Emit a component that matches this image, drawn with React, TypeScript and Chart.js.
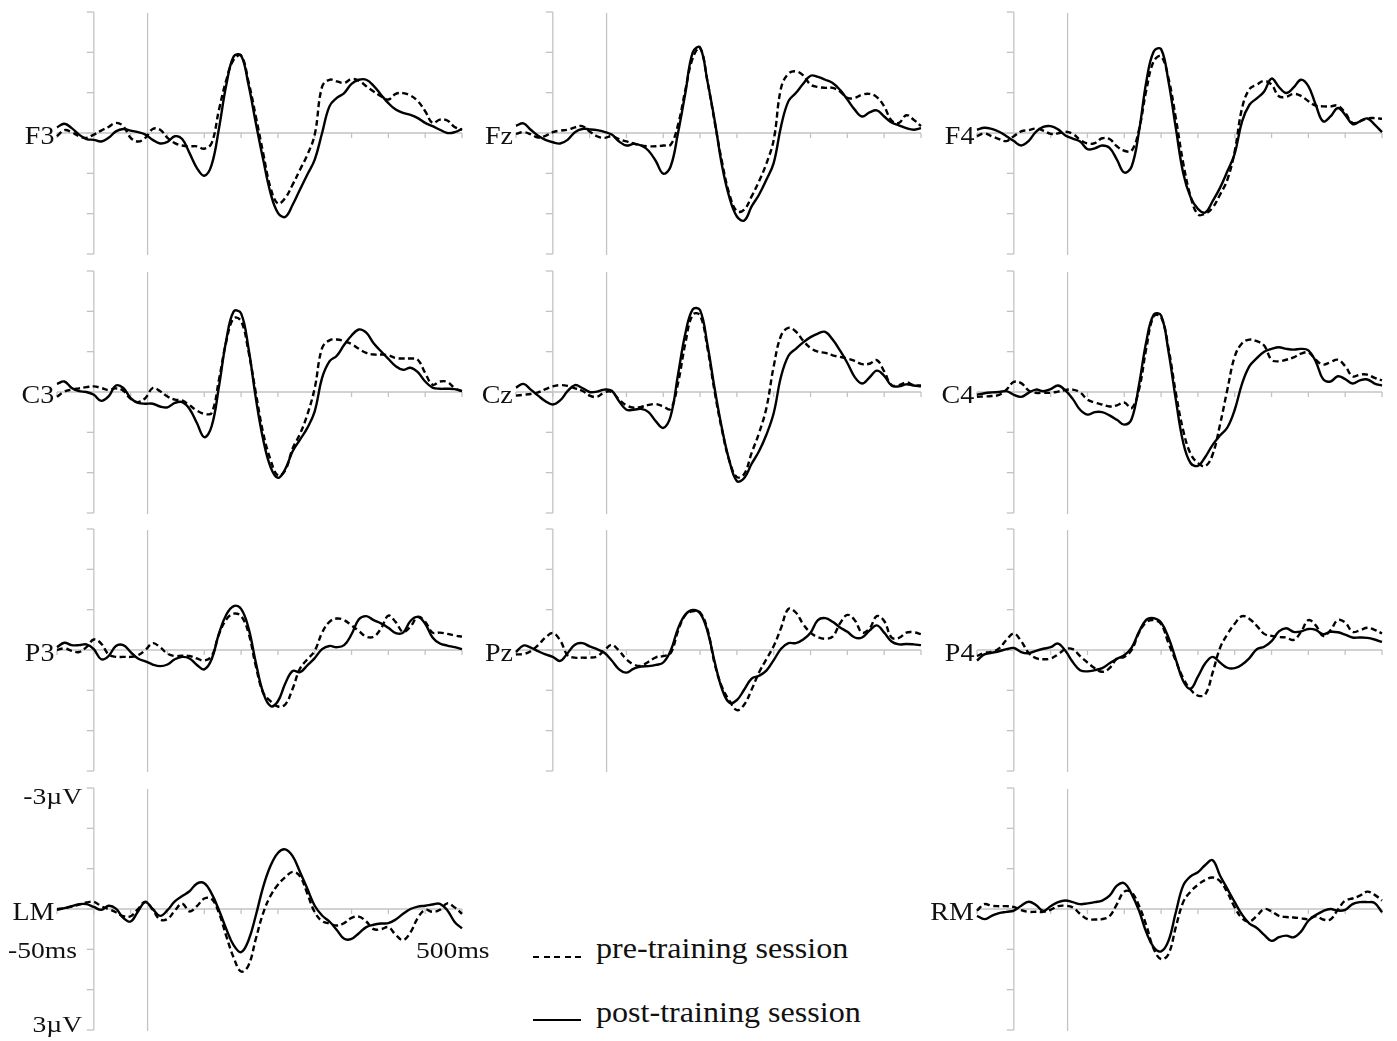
import React, { useEffect, useRef } from "react";
import { Chart, registerables } from "chart.js";

Chart.register(...registerables);

// ---------------- DATA ----------------
const times = [-50, -40, -30, -20, -10, 0, 10, 20, 30, 40, 50, 60, 70, 80, 90, 100, 110, 120, 130, 140, 150, 160, 170, 180, 190, 200, 210, 220, 230, 240, 250, 260, 270, 280, 290, 300, 310, 320, 330, 340, 350, 360, 370, 380, 390, 400, 410, 420, 430, 440, 450, 460, 470, 480, 490, 500];

const xTickValues = [-50, 0, 50, 100, 150, 200, 250, 300, 350, 400, 450, 500];
const yTickValues = [-3, -2, -1, 0, 1, 2, 3];
const markerTime = 73;

const F3_post = [-0.14, -0.23, -0.12, 0.04, 0.15, 0.17, 0.21, 0.12, -0.04, -0.10,
  -0.06, -0.02, 0.04, 0.17, 0.26, 0.22, 0.08, 0.15, 0.50, 0.87,
  1.06, 0.79, -0.12, -1.20, -1.90, -1.92, -1.20, -0.25, 0.66, 1.49,
  1.98, 2.08, 1.78, 1.40, 1.03, 0.66, 0, -0.66, -0.87, -0.99,
  -1.22, -1.32, -1.32, -1.17, -0.95, -0.74, -0.58, -0.50, -0.45, -0.37,
  -0.25, -0.17, -0.08, 0, -0.02, -0.10];
const F3_pre = [0.08, -0.07, -0.02, 0.08, 0.12, 0.04, -0.06, -0.15, -0.25, -0.17,
  0.12, 0.21, 0.12, -0.10, -0.08, 0.12, 0.25, 0.31, 0.33, 0.33,
  0.39, 0.25, -0.58, -1.32, -1.82, -1.92, -1.28, -0.41, 0.50, 1.36,
  1.75, 1.61, 1.28, 0.91, 0.54, 0.04, -1.15, -1.32, -1.28, -1.24,
  -1.34, -1.30, -1.16, -1.03, -0.91, -0.83, -0.97, -0.99, -0.93, -0.79,
  -0.54, -0.25, -0.33, -0.31, -0.15, -0.08];

const Fz_post = [-0.18, -0.24, -0.08, 0.07, 0.17, 0.23, 0.26, 0.17, -0.02, -0.10,
  -0.09, -0.07, -0.03, 0.04, 0.21, 0.31, 0.27, 0.31, 0.44, 0.70,
  1.01, 0.83, 0, -0.99, -2.00, -2.12, -1.28, -0.29, 0.83, 1.61,
  2.07, 2.17, 1.82, 1.53, 1.16, 0.74, -0.17, -0.79, -0.99, -1.22,
  -1.42, -1.39, -1.32, -1.24, -1.07, -0.83, -0.58, -0.41, -0.51, -0.56,
  -0.41, -0.26, -0.19, -0.12, -0.08, -0.12];
const Fz_pre = [0.02, -0.02, 0.03, 0.11, 0.07, -0.02, -0.06, -0.08, -0.14, -0.17,
  -0.04, 0.08, 0.12, 0.08, 0.15, 0.21, 0.26, 0.31, 0.33, 0.33,
  0.31, 0.29, -0.20, -1.07, -1.86, -2.11, -1.28, -0.25, 0.74, 1.53,
  1.94, 1.90, 1.57, 1.20, 0.76, 0.17, -1.12, -1.47, -1.53, -1.43,
  -1.20, -1.14, -1.12, -1.12, -1.03, -0.87, -0.87, -0.95, -0.97, -0.89,
  -0.66, -0.31, -0.25, -0.44, -0.33, -0.17];

const F4_post = [-0.08, -0.13, -0.10, -0.03, 0.08, 0.20, 0.31, 0.20, -0.03, -0.15,
  -0.17, -0.09, 0.06, 0.14, 0.21, 0.40, 0.38, 0.31, 0.37, 0.66,
  0.98, 0.83, -0.04, -1.28, -2.02, -2.08, -1.28, -0.12, 0.99, 1.59,
  1.88, 1.97, 1.69, 1.36, 0.95, 0.51, -0.29, -0.70, -0.86, -1.03,
  -1.35, -1.14, -0.99, -1.13, -1.32, -1.16, -0.70, -0.29, -0.41, -0.62,
  -0.45, -0.22, -0.29, -0.36, -0.21, -0.02];
const F4_pre = [0.08, 0.01, 0.08, 0.15, 0.20, 0.08, -0.04, -0.07, -0.11, -0.06,
  0.02, 0.01, -0.03, 0.02, 0.17, 0.26, 0.25, 0.13, 0.15, 0.33,
  0.44, 0.44, -0.08, -1.07, -1.78, -1.90, -1.36, -0.37, 0.74, 1.57,
  2.02, 2.00, 1.85, 1.53, 1.16, 0.45, -0.62, -1.09, -1.20, -1.29,
  -1.20, -0.91, -0.90, -0.97, -0.92, -0.79, -0.68, -0.66, -0.66, -0.68,
  -0.50, -0.25, -0.29, -0.36, -0.37, -0.35];

const C3_post = [-0.20, -0.26, -0.10, -0.02, 0, 0.07, 0.22, 0.11, -0.16, -0.10,
  0.15, 0.27, 0.29, 0.29, 0.36, 0.38, 0.27, 0.25, 0.42, 0.77,
  1.12, 0.85, -0.14, -1.30, -2.00, -1.95, -1.09, 0.15, 1.18, 1.86,
  2.13, 1.91, 1.47, 1.18, 0.89, 0.48, -0.35, -0.76, -0.90, -1.17,
  -1.40, -1.55, -1.47, -1.21, -1.01, -0.82, -0.64, -0.55, -0.60, -0.49,
  -0.26, -0.11, -0.08, -0.08, -0.07, -0.02];
const C3_pre = [0.12, -0.01, -0.06, -0.09, -0.12, -0.14, -0.10, -0.05, -0.09, -0.03,
  0.17, 0.25, 0.15, -0.10, -0.02, 0.11, 0.19, 0.21, 0.33, 0.46,
  0.54, 0.52, -0.31, -1.26, -1.83, -1.76, -1.01, 0.02, 1.02, 1.68,
  2.07, 1.94, 1.40, 1.04, 0.56, -0.10, -1.09, -1.28, -1.30, -1.26,
  -1.19, -1.07, -0.97, -0.93, -0.93, -0.91, -0.84, -0.83, -0.83, -0.80,
  -0.47, -0.18, -0.26, -0.25, -0.10, -0.02];

const Cz_post = [-0.11, -0.20, -0.06, 0.09, 0.23, 0.31, 0.21, -0.02, -0.17, -0.10,
  0, -0.01, -0.06, -0.03, 0.23, 0.44, 0.44, 0.42, 0.50, 0.73,
  0.89, 0.60, -0.43, -1.45, -2.05, -2.03, -1.17, -0.06, 0.93, 1.72,
  2.21, 2.13, 1.78, 1.47, 1.06, 0.52, -0.39, -0.90, -1.07, -1.23,
  -1.36, -1.45, -1.49, -1.30, -1.03, -0.72, -0.37, -0.21, -0.36, -0.53,
  -0.40, -0.16, -0.14, -0.19, -0.16, -0.14];
const Cz_pre = [0.09, 0.07, 0.05, 0.01, -0.07, -0.14, -0.17, -0.15, -0.09, -0.03,
  0.09, 0.12, 0.01, 0, 0.19, 0.33, 0.39, 0.37, 0.32, 0.30,
  0.36, 0.42, -0.22, -1.21, -1.92, -1.90, -1.09, 0.02, 0.97, 1.72,
  2.11, 2.03, 1.51, 1.02, 0.40, -0.64, -1.40, -1.59, -1.50, -1.27,
  -1.09, -1.00, -0.97, -0.91, -0.87, -0.83, -0.77, -0.69, -0.70, -0.79,
  -0.51, -0.17, -0.17, -0.24, -0.17, -0.16];

const C4_post = [0.07, 0.03, 0.01, 0, -0.02, 0.07, 0.12, 0.02, -0.06, -0.02,
  -0.07, -0.16, -0.04, 0.17, 0.44, 0.56, 0.50, 0.50, 0.58, 0.69,
  0.81, 0.67, -0.18, -1.26, -1.92, -1.90, -1.01, 0.19, 1.25, 1.76,
  1.83, 1.61, 1.31, 1.08, 0.88, 0.44, -0.21, -0.64, -0.84, -1.00,
  -1.07, -1.11, -1.07, -1.05, -1.07, -1.03, -0.76, -0.32, -0.26, -0.39,
  -0.32, -0.21, -0.29, -0.31, -0.21, -0.16];
const C4_pre = [0.12, 0.11, 0.10, 0.07, -0.06, -0.25, -0.22, -0.04, 0.02, 0.02,
  0.02, -0.01, -0.05, -0.06, 0.01, 0.19, 0.26, 0.31, 0.36, 0.33,
  0.26, 0.40, -0.06, -1.09, -1.88, -1.86, -1.09, 0.02, 0.95, 1.53,
  1.76, 1.84, 1.55, 0.81, -0.06, -0.88, -1.21, -1.30, -1.26, -1.15,
  -0.80, -0.76, -0.80, -0.86, -0.95, -0.98, -0.80, -0.68, -0.74, -0.80,
  -0.64, -0.39, -0.43, -0.43, -0.35, -0.29];

const P3_post = [-0.07, -0.18, -0.12, -0.12, -0.14, -0.02, 0.23, 0.15, -0.10, -0.12,
  0.05, 0.21, 0.28, 0.36, 0.40, 0.36, 0.23, 0.17, 0.21, 0.37,
  0.48, 0.23, -0.41, -0.88, -1.09, -1.02, -0.55, 0.31, 1.06, 1.39,
  1.27, 0.83, 0.52, 0.55, 0.38, 0.20, -0.02, -0.10, -0.07, -0.12,
  -0.39, -0.76, -0.84, -0.74, -0.66, -0.55, -0.42, -0.43, -0.72, -0.82,
  -0.65, -0.31, -0.16, -0.11, -0.07, -0.02];
const P3_pre = [0, -0.04, 0.02, 0.05, -0.07, -0.26, -0.16, 0.11, 0.17, 0.17,
  0.17, 0.13, 0, -0.17, -0.07, 0.09, 0.15, 0.14, 0.15, 0.21,
  0.26, 0.15, -0.39, -0.76, -0.90, -0.84, -0.43, 0.40, 1.06, 1.27,
  1.40, 1.35, 0.96, 0.46, 0.23, 0.02, -0.43, -0.70, -0.78, -0.74,
  -0.61, -0.47, -0.33, -0.33, -0.53, -0.85, -0.69, -0.45, -0.58, -0.82,
  -0.70, -0.43, -0.43, -0.40, -0.36, -0.33];

const Pz_post = [0.05, -0.11, -0.06, 0.03, 0.11, 0.17, 0.27, 0.08, -0.13, -0.17,
  -0.09, -0.02, 0.07, 0.26, 0.48, 0.56, 0.46, 0.41, 0.40, 0.37,
  0.31, 0.02, -0.53, -0.88, -0.99, -0.91, -0.47, 0.31, 0.98, 1.31,
  1.24, 0.98, 0.71, 0.64, 0.51, 0.25, -0.03, -0.17, -0.17, -0.26,
  -0.43, -0.74, -0.79, -0.70, -0.56, -0.45, -0.31, -0.31, -0.48, -0.61,
  -0.43, -0.21, -0.14, -0.15, -0.14, -0.12];
const Pz_pre = [0.11, 0.10, 0.03, -0.12, -0.31, -0.42, -0.24, 0.13, 0.19, 0.19,
  0.19, 0.16, 0.01, -0.13, 0.02, 0.23, 0.36, 0.39, 0.29, 0.18,
  0.15, 0.08, -0.47, -0.87, -0.96, -0.93, -0.51, 0.36, 0.93, 1.26,
  1.49, 1.35, 0.98, 0.56, 0.23, -0.10, -0.55, -1.02, -0.93, -0.64,
  -0.43, -0.32, -0.28, -0.33, -0.66, -0.87, -0.74, -0.43, -0.53, -0.84,
  -0.72, -0.31, -0.30, -0.43, -0.44, -0.39];

const P4_post = [0.26, 0.11, 0.07, 0.03, -0.02, -0.05, 0.05, 0.08, 0.02, -0.03,
  -0.07, -0.16, 0.02, 0.30, 0.50, 0.53, 0.50, 0.45, 0.33, 0.22,
  0.13, -0.06, -0.45, -0.75, -0.79, -0.68, -0.31, 0.23, 0.77, 0.96,
  0.66, 0.33, 0.17, 0.31, 0.44, 0.45, 0.36, 0.20, -0.02, -0.08,
  -0.22, -0.46, -0.54, -0.45, -0.46, -0.52, -0.50, -0.39, -0.45, -0.44,
  -0.38, -0.31, -0.31, -0.30, -0.26, -0.20];
const P4_pre = [0.15, 0.07, 0.05, -0.04, -0.25, -0.41, -0.22, 0.07, 0.20, 0.23,
  0.21, 0.11, -0.02, -0.02, 0.15, 0.31, 0.45, 0.54, 0.45, 0.21,
  0.17, 0, -0.43, -0.69, -0.74, -0.64, -0.17, 0.27, 0.70, 0.98,
  1.13, 1.10, 0.56, -0.05, -0.39, -0.65, -0.84, -0.77, -0.60, -0.40,
  -0.35, -0.32, -0.31, -0.25, -0.45, -0.74, -0.61, -0.35, -0.49, -0.74,
  -0.68, -0.45, -0.49, -0.55, -0.50, -0.41];

const LM_post = [0.02, -0.02, -0.07, -0.12, -0.12, -0.05, 0.02, -0.08, -0.01, 0.22,
  0.31, 0.06, -0.17, 0, 0.17, 0.03, -0.19, -0.32, -0.44, -0.63,
  -0.64, -0.38, 0.03, 0.50, 0.90, 1.07, 0.78, 0.16, -0.55, -1.07,
  -1.39, -1.48, -1.31, -0.92, -0.50, -0.08, 0.16, 0.31, 0.52, 0.74,
  0.74, 0.60, 0.45, 0.39, 0.36, 0.35, 0.26, 0.12, 0, -0.06,
  -0.08, -0.11, -0.13, 0.03, 0.32, 0.48];
const LM_pre = [0, -0.02, -0.06, -0.11, -0.16, -0.18, -0.07, 0, 0.08, 0.18,
  0.18, 0, -0.18, 0.02, 0.26, 0.25, 0.04, -0.13, 0.06, -0.07,
  -0.26, -0.25, 0.10, 0.68, 1.21, 1.55, 1.40, 0.74, 0.10, -0.33,
  -0.60, -0.79, -0.92, -0.81, -0.38, 0.08, 0.30, 0.36, 0.41, 0.35,
  0.22, 0.19, 0.31, 0.50, 0.50, 0.45, 0.64, 0.77, 0.58, 0.22,
  0.02, 0.07, 0.02, -0.14, -0.04, 0.12];

const RM_post = [0.17, 0.25, 0.17, 0.10, 0.07, 0.04, -0.08, -0.18, -0.10, 0.05,
  -0.07, -0.17, -0.21, -0.17, -0.12, -0.14, -0.17, -0.21, -0.33, -0.58,
  -0.64, -0.37, 0.04, 0.58, 0.95, 1.05, 0.79, 0.08, -0.58, -0.81,
  -0.91, -1.09, -1.21, -0.83, -0.50, -0.17, 0.14, 0.36, 0.47, 0.64,
  0.79, 0.70, 0.66, 0.70, 0.56, 0.29, 0.15, 0.05, 0, 0.04,
  0.02, -0.12, -0.17, -0.17, -0.15, 0.08];
const RM_pre = [0.04, -0.12, -0.08, -0.07, -0.07, -0.05, 0.03, 0.07, 0.07, 0.07,
  0.02, -0.07, -0.08, -0.04, 0.12, 0.25, 0.26, 0.25, 0.18, -0.12,
  -0.43, -0.41, -0.08, 0.41, 0.99, 1.24, 1.12, 0.45, -0.17, -0.43,
  -0.60, -0.72, -0.78, -0.69, -0.41, -0.04, 0.23, 0.31, 0.17, 0,
  0.06, 0.17, 0.20, 0.21, 0.23, 0.25, 0.18, 0.26, 0.26, 0.02,
  -0.21, -0.26, -0.33, -0.43, -0.35, -0.21];

const panels = [
  { name: "F3", row: 0, col: 0, pre: F3_pre, post: F3_post },
  { name: "Fz", row: 0, col: 1, pre: Fz_pre, post: Fz_post },
  { name: "F4", row: 0, col: 2, pre: F4_pre, post: F4_post },
  { name: "C3", row: 1, col: 0, pre: C3_pre, post: C3_post },
  { name: "Cz", row: 1, col: 1, pre: Cz_pre, post: Cz_post },
  { name: "C4", row: 1, col: 2, pre: C4_pre, post: C4_post },
  { name: "P3", row: 2, col: 0, pre: P3_pre, post: P3_post },
  { name: "Pz", row: 2, col: 1, pre: Pz_pre, post: Pz_post },
  { name: "P4", row: 2, col: 2, pre: P4_pre, post: P4_post },
  { name: "LM", row: 3, col: 0, pre: LM_pre, post: LM_post },
  { name: "RM", row: 3, col: 2, pre: RM_pre, post: RM_post },
];

// ---------------- LAYOUT ----------------
const COL_X = [57, 516, 977];
const ROW_TOP = [12, 271, 529, 788];
const PW = 405;
const PH = 242;
const PAD = 12;
const GRAY = "#c3c3c3";
const FONT = '"Liberation Serif", "Times New Roman", serif';

const axesPlugin = {
  id: "erpAxes",
  beforeDatasetsDraw(chart: any) {
    const { ctx } = chart;
    const x = chart.scales.x;
    const y = chart.scales.y;
    const seg = (x1: number, y1: number, x2: number, y2: number) => {
      ctx.beginPath();
      ctx.moveTo(x1, y1);
      ctx.lineTo(x2, y2);
      ctx.stroke();
    };
    ctx.save();
    ctx.strokeStyle = GRAY;
    ctx.lineWidth = 1.3;
    const y0 = y.getPixelForValue(0);
    seg(x.getPixelForValue(times[0]), y0, x.getPixelForValue(times[times.length - 1]), y0);
    xTickValues.forEach((t) => {
      const px = x.getPixelForValue(t);
      seg(px, y0, px, y0 + 5);
    });
    const ax = x.getPixelForValue(0);
    const yTop = y.getPixelForValue(yTickValues[0]);
    const yBot = y.getPixelForValue(yTickValues[yTickValues.length - 1]);
    seg(ax, yTop, ax, yBot);
    yTickValues.forEach((v) => {
      const py = y.getPixelForValue(v);
      seg(ax - 7, py, ax, py);
    });
    const mx = x.getPixelForValue(markerTime);
    seg(mx, yTop + 1, mx, yBot + 1);
    ctx.restore();
  },
};

function Panel({ p }: { p: any }) {
  const ref = useRef<HTMLCanvasElement | null>(null);
  useEffect(() => {
    if (!ref.current) return;
    const toPts = (arr: number[]) => times.map((t, i) => ({ x: t, y: arr[i] }));
    const chart = new Chart(ref.current, {
      type: "line",
      data: {
        datasets: [
          {
            label: "post-training session",
            data: toPts(p.post),
            borderColor: "#000",
            borderWidth: 2.4,
            pointRadius: 0,
            tension: 0.4,
            fill: false,
            clip: false as any,
            order: 0,
          },
          {
            label: "pre-training session",
            data: toPts(p.pre),
            borderColor: "#000",
            borderWidth: 2.4,
            borderDash: [6, 3.5],
            pointRadius: 0,
            tension: 0.4,
            fill: false,
            clip: false as any,
            order: 1,
          },
        ],
      },
      options: {
        animation: false,
        responsive: false,
        events: [],
        layout: { padding: PAD },
        plugins: { legend: { display: false }, tooltip: { enabled: false }, title: { display: false } },
        scales: {
          x: { type: "linear", min: times[0], max: times[times.length - 1], display: false },
          y: { type: "linear", min: yTickValues[0], max: yTickValues[yTickValues.length - 1], reverse: true, display: false },
        },
      },
      plugins: [axesPlugin],
    } as any);
    return () => chart.destroy();
  }, [p]);
  const left = COL_X[p.col] - PAD;
  const top = ROW_TOP[p.row] - PAD;
  return (
    <canvas
      ref={ref}
      width={PW + 2 * PAD}
      height={PH + 2 * PAD}
      style={{ position: "absolute", left, top, width: PW + 2 * PAD, height: PH + 2 * PAD, display: "block" }}
    />
  );
}

function Txt({ text, x, y, align, size, sx }: { text: string; x: number; y: number; align: "left" | "right"; size: number; sx: number }) {
  const style: any = {
    position: "absolute",
    top: y,
    fontFamily: FONT,
    fontSize: size,
    lineHeight: 1,
    whiteSpace: "nowrap",
    color: "#111",
    transform: `translateY(-50%) scaleX(${sx})`,
    transformOrigin: align === "right" ? "right center" : "left center",
  };
  if (align === "right") style.right = 1397 - x;
  else style.left = x;
  return <div style={style}>{text}</div>;
}

export default function App() {
  return (
    <div style={{ position: "absolute", left: 0, top: 0, width: 1397, height: 1041, background: "#fff", overflow: "hidden" }}>
      {panels.map((p) => (
        <Panel key={p.name} p={p} />
      ))}
      {panels.map((p) => (
        <Txt key={"l" + p.name} text={p.name} x={COL_X[p.col] - 3} y={ROW_TOP[p.row] + PH / 2 + 2} align="right" size={25} sx={1.12} />
      ))}
      <Txt text="-3µV" x={82} y={796} align="right" size={24} sx={1.15} />
      <Txt text="-50ms" x={77} y={950} align="right" size={24} sx={1.15} />
      <Txt text="3µV" x={82} y={1024} align="right" size={24} sx={1.15} />
      <Txt text="500ms" x={416} y={950} align="left" size={24} sx={1.15} />
      {/* legend */}
      <div style={{ position: "absolute", left: 533, top: 956, width: 48, height: 2, display: "flex", justifyContent: "space-between" }}>
        {[0, 1, 2, 3, 4].map((i) => (
          <div key={i} style={{ width: 6, height: 2, background: "#000" }} />
        ))}
      </div>
      <div style={{ position: "absolute", left: 533, top: 1019, width: 48, height: 2, background: "#000" }} />
      <Txt text="pre-training session" x={596} y={948} align="left" size={30} sx={1.07} />
      <Txt text="post-training session" x={596} y={1012} align="left" size={30} sx={1.07} />
    </div>
  );
}
